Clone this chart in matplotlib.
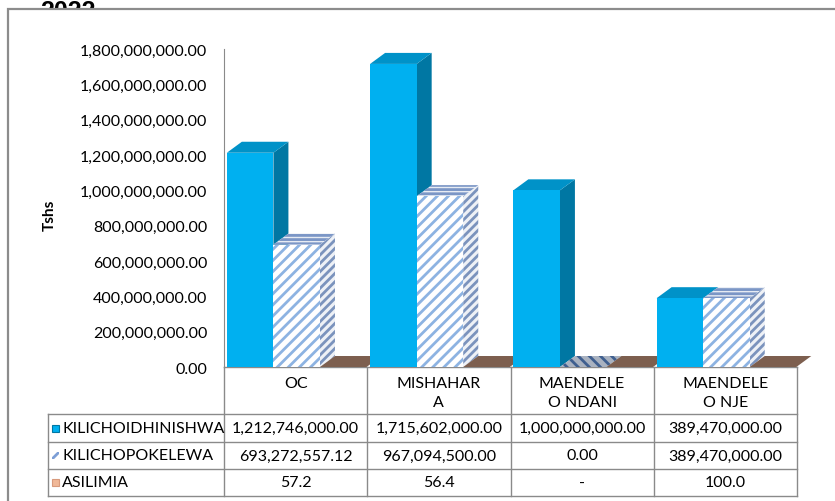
import numpy as np
import matplotlib
matplotlib.use("Agg")
import matplotlib.pyplot as plt
from matplotlib.patches import Polygon, Rectangle
from matplotlib.ticker import FuncFormatter

# ---- data
categories = ["OC", "MISHAHAR\nA", "MAENDELE\nO NDANI", "MAENDELE\nO NJE"]
kilichoidhinishwa = [1212746000.00, 1715602000.00, 1000000000.00, 389470000.00]
kilichopokelewa = [693272557.12, 967094500.00, 0.00, 389470000.00]
asilimia = [57.2, 56.4, np.nan, 100.0]
series_names = ["KILICHOIDHINISHWA", "KILICHOPOKELEWA", "ASILIMIA"]
yticks = np.arange(0, 1.8e9 + 1, 2e8)

plt.rcParams["font.family"] = ["Lato", "DejaVu Sans"]
plt.rcParams["hatch.linewidth"] = 2.0

W, H = 835, 502
fs = 11.5
fig = plt.figure(figsize=(W / 100, H / 100), dpi=100)

# overlay in pixel coords (border, table, texts)
ov = fig.add_axes([0, 0, 1, 1])
ov.set_xlim(0, W)
ov.set_ylim(H, 0)
ov.axis("off")
ov.set_zorder(1)

ov.text(40, 19, "2022", fontsize=18, fontweight="bold",
        family="Liberation Sans", va="baseline", zorder=1)
ov.add_patch(Rectangle((8, 10), 900, 600, facecolor="white",
                       edgecolor="#8c8c8c", lw=1.6, zorder=2))
ov.text(50, 215, "Tshs", rotation=90, fontsize=11, fontweight="bold",
        ha="center", va="center", zorder=3)

# ---- main chart axes
x_left, x_right = 224, 797
y_top, y_base = 50, 368
ax = fig.add_axes([x_left / W, 1 - y_base / H, (x_right - x_left) / W,
                   (y_base - y_top) / H])
ax.set_zorder(5)
ax.patch.set_alpha(0)
ax.set_xlim(0, len(categories))
ax.set_ylim(0, 1.8e9)
for s in ["top", "right", "bottom"]:
    ax.spines[s].set_visible(False)
ax.spines["left"].set_color("#8a8a8a")
ax.set_xticks([])
ax.set_yticks(yticks)
ax.yaxis.set_major_formatter(FuncFormatter(lambda v, p: f"{v:,.2f}"))
ax.tick_params(axis="y", length=0, pad=12, labelsize=fs)

# depth of the 3d effect, in data units
cat_px = (x_right - x_left) / len(categories)
dx = 15 / cat_px
dy = 11 * 1.8e9 / (y_base - y_top)

width = 0.325
z = 10


def bar3d(x0, h, front, side, top):
    global z
    faces = [
        ([(x0 + width, 0), (x0 + width + dx, dy), (x0 + width + dx, h + dy),
          (x0 + width, h)], side),
        ([(x0, h), (x0 + dx, h + dy), (x0 + width + dx, h + dy),
          (x0 + width, h)], top),
        ([(x0, 0), (x0 + width, 0), (x0 + width, h), (x0, h)], front),
    ]
    for pts, st in faces:
        ax.add_patch(Polygon(pts, closed=True, clip_on=False, zorder=z, **st))
    z += 1


blue = dict(front=dict(facecolor="#00b0f0", lw=0),
            side=dict(facecolor="#0077a3", lw=0),
            top=dict(facecolor="#0092c8", lw=0))
hatched = dict(front=dict(facecolor="white", edgecolor="#8db3e2", hatch="///", lw=0),
               side=dict(facecolor="#eef1f6", edgecolor="#7b93bd", hatch="////", lw=0),
               top=dict(facecolor="#e6ebf3", edgecolor="#7b96c6", hatch="----", lw=0))
flat_hatch = dict(front=dict(facecolor="white", lw=0),
                  side=dict(facecolor="#9aa6b8", lw=0),
                  top=dict(facecolor="#a9b2c0", edgecolor="#3f5f8f", hatch="\\\\\\", lw=0))
brown = dict(front=dict(facecolor="#7d5f4f", lw=0),
             side=dict(facecolor="#6b5043", lw=0),
             top=dict(facecolor="#7d5f4f", lw=0))

for i in range(len(categories)):
    base = i + 0.02
    bar3d(base, kilichoidhinishwa[i], **blue)
    bar3d(base + width, kilichopokelewa[i],
          **(hatched if kilichopokelewa[i] > 0 else flat_hatch))
    bar3d(base + 2 * width, np.nan_to_num(asilimia[i]), **brown)

# ---- data table
grid = "#8a8a8a"
col_x = np.linspace(x_left, x_right, len(categories) + 1)
row_y = [368, 415, 443, 470, 497]
lab_x = 48
for cx in col_x:
    ov.plot([cx, cx], [row_y[0], row_y[-1]], color=grid, lw=1, zorder=3)
ov.plot([lab_x, lab_x], [row_y[1], row_y[-1]], color=grid, lw=1, zorder=3)
ov.plot([x_left, x_right], [row_y[0], row_y[0]], color=grid, lw=1, zorder=3)
for ry in row_y[1:]:
    ov.plot([lab_x, x_right], [ry, ry], color=grid, lw=1, zorder=3)

centers = (col_x[:-1] + col_x[1:]) / 2
for cx, name in zip(centers, categories):
    ov.text(cx, 377, name, ha="center", va="top", fontsize=fs,
            linespacing=1.45, zorder=4)

rows = [
    [f"{v:,.2f}" for v in kilichoidhinishwa],
    [f"{v:,.2f}" for v in kilichopokelewa],
    ["-" if np.isnan(v) else f"{v:.1f}" for v in asilimia],
]
keys = [
    dict(facecolor="#00b0f0", edgecolor="#0077a3", lw=0.8),
    dict(facecolor="white", edgecolor="#7d9fd6", hatch="///", lw=0),
    dict(facecolor="#f0b898", edgecolor="#d89a7c", lw=0.8),
]
for r in range(3):
    cy = (row_y[r + 1] + row_y[r + 2]) / 2
    ov.add_patch(Rectangle((52, cy - 3.5), 7, 7, zorder=4, **keys[r]))
    ov.text(62, cy, series_names[r], ha="left", va="center", fontsize=fs,
            zorder=4)
    for cx, txt in zip(centers, rows[r]):
        ov.text(cx, cy, txt, ha="center", va="center", fontsize=fs, zorder=4)

fig.savefig("out.png", dpi=100)
